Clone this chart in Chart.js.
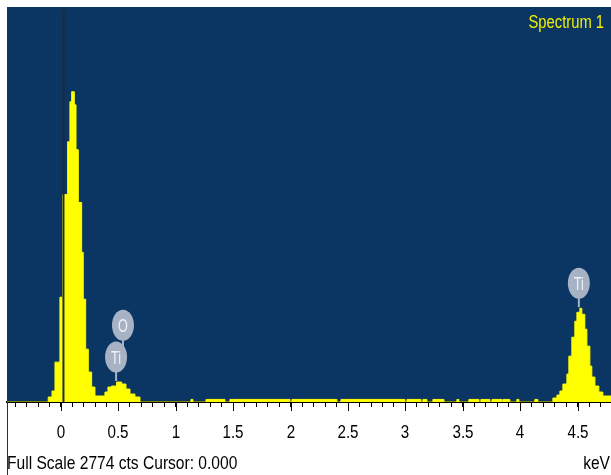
<!DOCTYPE html>
<html><head><meta charset="utf-8">
<script src="https://cdn.jsdelivr.net/npm/chart.js@4.4.1/dist/chart.umd.min.js"></script>
<style>html,body{margin:0;padding:0;background:#fff;}#wrap{width:611px;height:475px;position:relative;}</style>
</head><body><div id="wrap"><canvas id="c"></canvas></div>
<script>
// ---- data (bin start energy in keV, counts in the bin) ----
const binStartKeV = [-0.47, -0.111, -0.078, -0.052, -0.009, 0.015, 0.058, 0.078, 0.093, 0.116, 0.131, 0.151, 0.180, 0.194, 0.215, 0.238, 0.267, 0.296, 0.383, 0.409, 0.441, 0.485, 0.529, 0.566, 0.601, 0.644, 0.688,
  1.132, 1.149, 1.263, 1.428, 1.471, 1.994, 2.011, 2.403, 2.438, 2.995, 3.013, 3.135, 3.152, 3.187, 3.239, 3.335, 3.448, 3.465, 3.552, 3.640, 3.657, 3.735, 3.753, 3.840, 3.849, 3.909, 3.970, 3.988, 4.127, 4.153,
  4.284, 4.319, 4.345, 4.371, 4.406, 4.423, 4.449, 4.475, 4.493, 4.519, 4.536, 4.562, 4.580, 4.606, 4.623, 4.650, 4.684, 4.719, 4.79];
const counts = [0, 35, 77, 280, 736, 1457, 1828, 2109, 2179, 2087, 1772, 1401, 1051, 722, 371, 210, 105, 42, 70, 105, 112, 140, 126, 91, 56, 35, 0,
  18, 0, 18, 0, 18, 0, 18, 0, 18, 0, 18, 0, 18, 0, 18, 0, 18, 0, 18, 0, 18, 0, 18, 0, 18, 0, 18, 0, 18, 0,
  28, 49, 77, 126, 196, 322, 455, 567, 630, 658, 616, 511, 392, 252, 175, 112, 70, 42, 42];
const tickLabelKeV = [0, 0.5, 1, 1.5, 2, 2.5, 3, 3.5, 4, 4.5];
const markerNames = ['Ti', 'O', 'Ti'];
const markerKeV = [0.48, 0.54, 4.51];
const markerCounts = [147, 371, 665];
const fullScaleCts = 2774;
const cursorKeV = 0.000;
const spectrumTitle = 'Spectrum 1';
const axisUnit = 'keV';
const xMinKeV = -0.47, xMaxKeV = 4.79;

const FONT = "'Liberation Sans', Arial, sans-serif";
const BLUE = '#0b3563';
const YELLOW = '#ffff00';

function narrowText(ctx, str, x, y, size, color, align, sx) {
  ctx.save();
  ctx.translate(x, y);
  ctx.scale(sx, 1);
  ctx.font = size + 'px ' + FONT;
  ctx.fillStyle = color;
  ctx.textAlign = align;
  ctx.textBaseline = 'alphabetic';
  ctx.fillText(str, 0, 0);
  ctx.restore();
}

const deco = {
  id: 'deco',
  beforeDraw(chart) {
    const {ctx, chartArea: a, width, height} = chart;
    ctx.save();
    ctx.fillStyle = '#fff';
    ctx.fillRect(0, 0, width, height);
    ctx.fillStyle = BLUE;
    ctx.fillRect(a.left, a.top, a.right - a.left, a.bottom - a.top);
    ctx.restore();
  },
  afterDatasetsDraw(chart) {
    const {ctx, chartArea: a, scales: {x, y}} = chart;
    ctx.save();
    // cursor
    const cx = x.getPixelForValue(cursorKeV) + 2.5;
    ctx.fillStyle = '#1b2a3c';
    ctx.fillRect(cx - 1, a.top + 2, 2, a.bottom - a.top - 2);
    // element markers
    markerNames.forEach((name, i) => {
      const px = x.getPixelForValue(markerKeV[i]);
      const base = y.getPixelForValue(markerCounts[i]);
      const cy = base - 24;
      ctx.strokeStyle = '#a7b3c5';
      ctx.lineWidth = 2;
      ctx.beginPath();
      ctx.moveTo(px, cy + 12);
      ctx.lineTo(px, base);
      ctx.stroke();
      ctx.fillStyle = '#a7b3c5';
      ctx.beginPath();
      ctx.ellipse(px, cy, 11, 15.5, 0, 0, Math.PI * 2);
      ctx.fill();
      narrowText(ctx, name, px, cy + 6.5, 18, '#eef2f7', 'center', 0.7);
    });
    ctx.restore();
  },
  afterDraw(chart) {
    const {ctx, chartArea: a, scales: {x}, width, height} = chart;
    ctx.save();
    // longer major ticks + labels
    ctx.strokeStyle = '#000';
    ctx.lineWidth = 1;
    tickLabelKeV.forEach(v => {
      const px = Math.round(x.getPixelForValue(v)) + 0.5;
      ctx.beginPath();
      ctx.moveTo(px, a.bottom);
      ctx.lineTo(px, a.bottom + 9);
      ctx.stroke();
      narrowText(ctx, String(v), px - 0.5, 438, 18.5, '#000', 'center', 0.82);
    });
    // left blue edge below the plot
    ctx.fillStyle = BLUE;
    ctx.fillRect(a.left, a.bottom, 1, height - a.bottom);
    // texts
    narrowText(ctx, 'Full Scale ' + fullScaleCts + ' cts Cursor: ' + cursorKeV.toFixed(3), a.left, 469, 19, '#000', 'left', 0.82);
    narrowText(ctx, axisUnit, width - 1, 469, 19, '#000', 'right', 0.82);
    narrowText(ctx, spectrumTitle, 604, 28, 18, '#f0f000', 'right', 0.82);
    ctx.restore();
  }
};

new Chart(document.getElementById('c'), {
  type: 'line',
  data: {
    datasets: [{
      data: binStartKeV.map((e, i) => ({x: e, y: counts[i]})),
      stepped: true,
      fill: 'origin',
      backgroundColor: YELLOW,
      borderColor: YELLOW,
      borderWidth: 1,
      pointRadius: 0
    }]
  },
  options: {
    responsive: true,
    maintainAspectRatio: false,
    animation: false,
    devicePixelRatio: 1,
    layout: {padding: {left: 7, top: 7, right: 0, bottom: 0}},
    plugins: {legend: {display: false}, tooltip: {enabled: false}},
    scales: {
      x: {
        type: 'linear',
        min: xMinKeV,
        max: xMaxKeV,
        afterFit: s => { s.height = 73; },
        border: {display: true, color: '#000', width: 2},
        grid: {drawOnChartArea: false, drawTicks: true, tickLength: 5, tickColor: '#000', color: '#000'},
        ticks: {
          stepSize: 0.1,
          includeBounds: false,
          autoSkip: false,
          maxRotation: 0,
          minRotation: 0,
          padding: 0,
          font: {family: FONT, size: 10},
          callback: () => ''
        }
      },
      y: {display: false, min: 0, max: fullScaleCts}
    }
  },
  plugins: [deco]
});
</script></body></html>
